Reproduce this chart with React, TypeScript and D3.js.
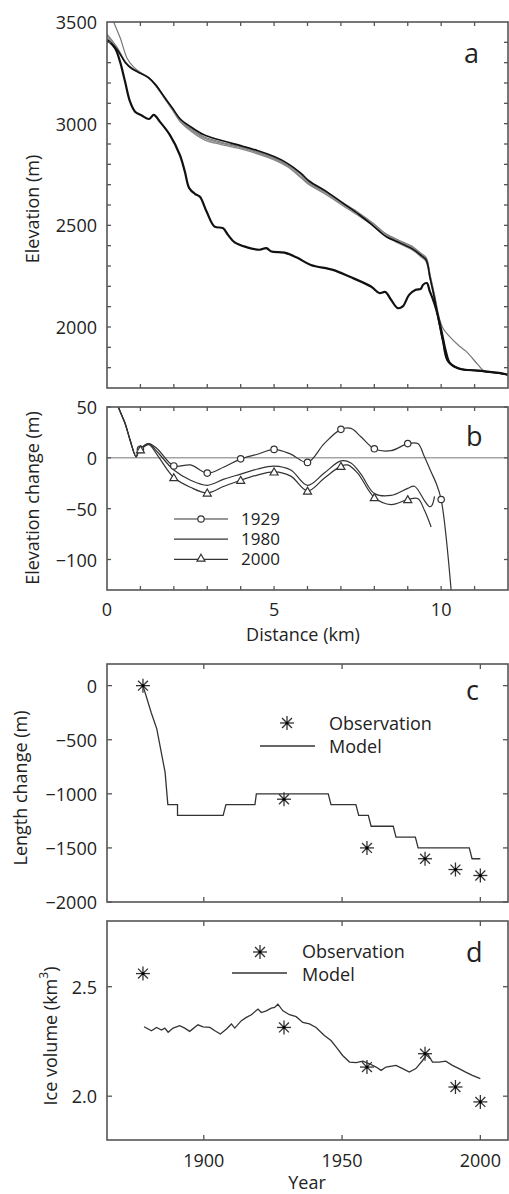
import React from "react";
import * as d3 from "d3";

// ---------- Panel a: surface profiles ----------
const kmUpper = [0, 0.3, 0.55, 0.75, 1.0, 1.25, 1.45, 1.7, 1.95, 2.2, 2.5, 2.9, 3.4, 4.0, 4.5, 5.0, 5.4, 5.8, 6.05, 6.55, 7.05, 7.55, 7.95, 8.35, 8.75, 9.15, 9.4, 9.55, 9.67, 9.8, 9.95, 10.05, 10.2, 10.55, 11.1, 11.7, 12];
const elevBlack = [3415, 3365, 3300, 3270, 3248, 3225, 3192, 3135, 3078, 3022, 2985, 2945, 2918, 2892, 2868, 2838, 2805, 2757, 2718, 2668, 2610, 2552, 2500, 2445, 2415, 2383, 2352, 2330, 2240, 2142, 2011, 1929, 1831, 1795, 1785, 1774, 1765];
const elevGray1 = [3440, 3375, 3305, 3272, 3250, 3226, 3190, 3132, 3072, 3012, 2972, 2930, 2905, 2882, 2858, 2828, 2793, 2740, 2705, 2660, 2605, 2555, 2510, 2455, 2420, 2390, 2360, 2340, 2250, 2150, 2020, 1935, 1835, 1797, 1786, 1775, 1765];
const elevGray2 = [3432, 3372, 3302, 3271, 3249, 3224, 3189, 3130, 3070, 3008, 2965, 2922, 2898, 2876, 2852, 2822, 2788, 2735, 2700, 2652, 2598, 2545, 2500, 2445, 2410, 2378, 2345, 2322, 2235, 2138, 2008, 1928, 1830, 1795, 1785, 1774, 1765];
const kmLong = [0, 0.2, 0.4, 0.6, 0.8, 1.0, 1.25, 1.45, 1.7, 1.95, 2.2, 2.5, 2.9, 3.4, 4.0, 4.5, 5.0, 5.4, 5.8, 6.05, 6.55, 7.05, 7.55, 7.95, 8.35, 8.75, 9.15, 9.4, 9.55, 9.67, 9.8, 9.95, 10.05, 10.2, 10.55, 10.75, 11.1, 11.3, 11.7, 12];
const elevLong = [3590, 3500, 3420, 3322, 3278, 3252, 3227, 3193, 3136, 3078, 3018, 2978, 2936, 2910, 2886, 2862, 2832, 2798, 2750, 2712, 2664, 2612, 2560, 2512, 2458, 2425, 2395, 2362, 2342, 2255, 2160, 2040, 1995, 1962, 1905, 1880, 1815, 1782, 1774, 1765];
const kmLow = [0, 0.24, 0.39, 0.54, 0.69, 0.84, 1.04, 1.26, 1.40, 1.58, 1.88, 2.18, 2.33, 2.46, 2.63, 2.78, 2.98, 3.22, 3.47, 3.62, 3.82, 4.17, 4.57, 4.77, 4.92, 5.31, 5.7, 6.1, 6.76, 7.25, 7.90, 8.15, 8.33, 8.50, 8.70, 8.85, 9.04, 9.24, 9.39, 9.46, 9.57, 9.66, 9.74, 9.84, 9.99, 10.14, 10.26, 10.54, 11.13, 11.73, 12];
const elevLow = [3412, 3371, 3305, 3207, 3108, 3059, 3040, 3023, 3043, 3010, 2945, 2846, 2764, 2683, 2655, 2641, 2568, 2494, 2486, 2453, 2416, 2393, 2380, 2388, 2371, 2366, 2340, 2305, 2281, 2248, 2199, 2167, 2172, 2134, 2093, 2101, 2158, 2183, 2188, 2208, 2216, 2175, 2142, 2093, 1995, 1880, 1823, 1795, 1785, 1774, 1765];
const elevTicksMajor = [2000, 2500, 3000, 3500];
const elevTicksMinor = [1800, 1900, 2000, 2100, 2200, 2300, 2400, 2500, 2600, 2700, 2800, 2900, 3000, 3100, 3200, 3300, 3400];
const kmTicks = [1, 2, 3, 4, 5, 6, 7, 8, 9, 10, 11];

// ---------- Panel b: elevation change ----------
const km1929 = [0.25, 0.34, 0.54, 0.69, 0.87, 0.94, 1.0, 1.25, 1.5, 2.0, 2.5, 3.0, 3.5, 4.0, 4.5, 5.0, 5.5, 6.0, 6.5, 7.0, 7.3, 7.6, 8.0, 8.5, 9.0, 9.3, 9.5, 9.7, 9.85, 10.0, 10.35];
const dh1929 = [60, 50, 34, 17.5, 1, 6, 8.3, 14, 9, -8, -7, -15, -9, -1, 3.5, 8.3, 3.6, -4.5, 14, 28, 29, 20.7, 8.9, 7, 14, 14, 1, -14, -25, -41, -150];
const km1980 = [0.25, 0.34, 0.54, 0.69, 0.87, 0.94, 1.0, 1.25, 1.5, 2.0, 2.5, 3.0, 3.5, 4.0, 4.5, 5.0, 5.5, 6.0, 6.5, 7.0, 7.3, 7.6, 8.0, 8.5, 9.0, 9.2, 9.5, 9.65, 9.72, 9.8];
const dh1980 = [60, 50, 34, 17.5, 1, 6, 9, 14, 6, -12, -22, -27, -21, -16, -11, -8.2, -12, -27, -15, -3, -5, -16, -35, -37, -30, -28, -42, -48, -47, -38];
const km2000 = [0.25, 0.34, 0.54, 0.69, 0.87, 0.94, 1.0, 1.25, 1.5, 2.0, 2.5, 3.0, 3.5, 4.0, 4.5, 5.0, 5.5, 6.0, 6.5, 7.0, 7.2, 7.5, 8.0, 8.5, 9.0, 9.3, 9.5, 9.7];
const dh2000 = [60, 50, 34, 17.5, 1, 6, 8, 13, 3, -19.4, -29, -34.5, -28, -22, -17, -13.8, -18, -32.6, -20, -8.2, -7, -15, -39, -46, -41, -40, -51.6, -68];
const km1929Markers = [1, 2, 3, 4, 5, 6, 7, 8, 9, 10];
const km2000Markers = [1, 2, 3, 4, 5, 6, 7, 8, 9];
const dhTicks = [-100, -50, 0, 50];
const kmLabelTicks = [0, 5, 10];
const legendYears = ["1929", "1980", "2000"];

// ---------- Panel c: length change ----------
const obsYears = [1878, 1929, 1959, 1980, 1991, 2000];
const obsLength = [0, -1050, -1500, -1600, -1700, -1755];
const modelLenYears = [1878, 1881, 1883, 1886, 1887, 1890.5, 1890.5, 1907, 1908, 1918.5, 1919, 1945, 1946, 1955, 1956, 1959.5, 1960.5, 1968.5, 1969.5, 1976.5, 1977.5, 1996, 1997, 2000];
const modelLen = [0, -250, -400, -800, -1100, -1100, -1200, -1200, -1100, -1100, -1000, -1000, -1100, -1100, -1200, -1200, -1300, -1300, -1400, -1400, -1500, -1500, -1600, -1600];
const lenTicks = [-2000, -1500, -1000, -500, 0];
const yearTicks = [1900, 1950, 2000];

// ---------- Panel d: ice volume ----------
const obsVolume = [2.56, 2.314, 2.133, 2.194, 2.042, 1.974];
const modelVolYears = [1878.4, 1881.1, 1882.9, 1884.7, 1885.9, 1887.1, 1888.9, 1891.3, 1893.1, 1894.9, 1897.9, 1899.7, 1902.2, 1904, 1906, 1908.2, 1910, 1911.2, 1913.6, 1915.4, 1917.2, 1919.6, 1920.8, 1922.6, 1924.4, 1925.6, 1926.8, 1928.6, 1931, 1933.4, 1935.8, 1938.2, 1940.6, 1943.6, 1946, 1947.9, 1950.2, 1952.7, 1955.1, 1957.5, 1959.9, 1962.3, 1964.1, 1965.9, 1969.5, 1971.9, 1974.3, 1976.7, 1979.1, 1980.9, 1982.7, 1985.1, 1987.5, 1989.9, 1992.3, 1994.7, 1997.1, 2000];
const modelVol = [2.317, 2.299, 2.314, 2.302, 2.311, 2.292, 2.311, 2.322, 2.311, 2.296, 2.326, 2.317, 2.314, 2.299, 2.284, 2.307, 2.33, 2.311, 2.345, 2.36, 2.372, 2.398, 2.382, 2.39, 2.402, 2.405, 2.42, 2.39, 2.372, 2.363, 2.337, 2.33, 2.314, 2.277, 2.254, 2.224, 2.186, 2.156, 2.153, 2.16, 2.148, 2.133, 2.118, 2.133, 2.141, 2.126, 2.11, 2.126, 2.163, 2.194, 2.156, 2.156, 2.16, 2.141, 2.126, 2.11, 2.095, 2.08];
const volTicks = [2.0, 2.5];
const volTickLabels = ["2.0", "2.5"];

const FONT = "'Open Sans', 'DejaVu Sans', sans-serif";
const FRAME = "#555";
const INK = "#222";
const L = 107, R = 508;

function Frame({ x, y, xTicks, yTicks, tl = 5 }: any) {
  const [x0, x1] = x.range();
  const [y0, y1] = y.range();
  return (
    <g stroke={FRAME} strokeWidth={1.3} fill="none">
      <rect x={x0} y={y1} width={x1 - x0} height={y0 - y1} strokeWidth={1.6} />
      {xTicks.map((t: number, i: number) => (
        <g key={"x" + i}>
          <line x1={x(t)} x2={x(t)} y1={y0} y2={y0 - tl} />
          <line x1={x(t)} x2={x(t)} y1={y1} y2={y1 + tl} />
        </g>
      ))}
      {yTicks.map((t: number, i: number) => (
        <g key={"y" + i}>
          <line x1={x0} x2={x0 + tl} y1={y(t)} y2={y(t)} />
          <line x1={x1} x2={x1 - tl} y1={y(t)} y2={y(t)} />
        </g>
      ))}
    </g>
  );
}

function Star({ cx, cy, r = 7 }: any) {
  const arms = d3.range(4).map((i) => (i * Math.PI) / 4);
  return (
    <g stroke="#333" strokeWidth={1.3}>
      {arms.map((a, i) => (
        <line key={i} x1={cx - r * Math.cos(a)} y1={cy - r * Math.sin(a)} x2={cx + r * Math.cos(a)} y2={cy + r * Math.sin(a)} />
      ))}
      <circle cx={cx} cy={cy} r={1.6} fill="#000" stroke="none" />
    </g>
  );
}

function YLabel({ x, y, text, children }: any) {
  return (
    <text transform={`translate(${x},${y}) rotate(-90)`} textAnchor="middle" dominantBaseline="central" fontSize={18} fill={INK}>
      {children || text}
    </text>
  );
}

export default function App() {
  const xa = d3.scaleLinear().domain([0, 12]).range([L, R]);
  const ya = d3.scaleLinear().domain([1700, 3500]).range([388, 22]);
  const lineA = (xs: number[], ys: number[]) =>
    d3.line<number>().x((_, i) => xa(xs[i])).y((v) => ya(v)).curve(d3.curveCatmullRom.alpha(0.5))(ys) || "";

  const yb = d3.scaleLinear().domain([-130, 50]).range([590, 407]);
  const lineB = (xs: number[], ys: number[]) =>
    d3.line<number>().x((_, i) => xa(xs[i])).y((v) => yb(v)).curve(d3.curveCatmullRom.alpha(0.5))(ys) || "";
  const interp = (xs: number[], ys: number[], k: number) => d3.scaleLinear().domain(xs).range(ys)(k);

  const xc = d3.scaleLinear().domain([1865, 2010]).range([L, R]);
  const yc = d3.scaleLinear().domain([-2000, 200]).range([902, 664]);
  const lineC = d3.line<number>().x((_, i) => xc(modelLenYears[i])).y((v) => yc(v))(modelLen) || "";

  const yd = d3.scaleLinear().domain([1.8, 2.8]).range([1140, 921]);
  const lineD = d3.line<number>().x((_, i) => xc(modelVolYears[i])).y((v) => yd(v))(modelVol) || "";

  const tri = d3.symbol().type(d3.symbolTriangle).size(28)() || "";

  return (
    <svg width={509} height={1194} style={{ position: "absolute", left: 0, top: 0, background: "#fff" }} fontFamily={FONT}>
      <defs>
        <clipPath id="clipA"><rect x={L} y={22} width={R - L} height={366} /></clipPath>
        <clipPath id="clipB"><rect x={L} y={407} width={R - L} height={183} /></clipPath>
      </defs>

      {/* Panel a */}
      <g clipPath="url(#clipA)" fill="none">
        <path d={lineA(kmLong, elevLong)} stroke="#777" strokeWidth={1.2} />
        <path d={lineA(kmUpper, elevGray1)} stroke="#888" strokeWidth={1.4} />
        <path d={lineA(kmUpper, elevGray2)} stroke="#888" strokeWidth={1.4} />
        <path d={lineA(kmUpper, elevBlack)} stroke="#111" strokeWidth={1.6} />
        <path d={lineA(kmLow, elevLow)} stroke="#111" strokeWidth={2.2} />
      </g>
      <Frame x={xa} y={ya} xTicks={kmTicks} yTicks={elevTicksMinor} tl={4} />
      {elevTicksMajor.map((t) => (
        <text key={t} x={97} y={ya(t)} textAnchor="end" dominantBaseline="central" fontSize={18} fill={INK}>{t}</text>
      ))}
      <text x={464} y={63} fontSize={27} fill={INK}>a</text>
      <YLabel x={32} y={209} text="Elevation (m)" />

      {/* Panel b */}
      <line x1={L} x2={R} y1={yb(0)} y2={yb(0)} stroke="#777" strokeWidth={1} />
      <g clipPath="url(#clipB)" fill="none" stroke="#333" strokeWidth={1.2}>
        <path d={lineB(km1929, dh1929)} />
        <path d={lineB(km1980, dh1980)} />
        <path d={lineB(km2000, dh2000)} />
        {km1929Markers.map((k) => (
          <circle key={"c" + k} cx={xa(k)} cy={yb(interp(km1929, dh1929, k))} r={3.2} fill="#fff" />
        ))}
        {km2000Markers.map((k) => (
          <path key={"t" + k} d={tri} transform={`translate(${xa(k)},${yb(interp(km2000, dh2000, k)) + 0.8})`} fill="#fff" />
        ))}
      </g>
      <Frame x={xa} y={yb} xTicks={kmTicks} yTicks={dhTicks} tl={4} />
      {dhTicks.map((t) => (
        <text key={t} x={97} y={yb(t)} textAnchor="end" dominantBaseline="central" fontSize={18} fill={INK}>{t < 0 ? "\u2212" + Math.abs(t) : t}</text>
      ))}
      {kmLabelTicks.map((t) => (
        <text key={t} x={xa(t)} y={616} textAnchor="middle" fontSize={18} fill={INK}>{t}</text>
      ))}
      <text x={303} y={641} textAnchor="middle" fontSize={18} fill={INK}>Distance (km)</text>
      <text x={466} y={446} fontSize={27} fill={INK}>b</text>
      <YLabel x={32} y={498} text="Elevation change (m)" />
      {legendYears.map((yr, i) => {
        const ly = 519 + i * 20.2;
        return (
          <g key={yr}>
            <line x1={174} x2={228} y1={ly} y2={ly} stroke="#333" strokeWidth={1.2} />
            {i === 0 && <circle cx={201} cy={ly} r={3.2} fill="#fff" stroke="#333" strokeWidth={1.2} />}
            {i === 2 && <path d={tri} transform={`translate(201,${ly - 0.5})`} fill="#fff" stroke="#333" strokeWidth={1.2} />}
            <text x={241} y={ly + 6} fontSize={17} fill={INK}>{yr}</text>
          </g>
        );
      })}

      {/* Panel c */}
      <path d={lineC} fill="none" stroke="#333" strokeWidth={1.3} />
      {obsYears.map((yr, i) => (
        <Star key={yr} cx={xc(yr)} cy={yc(obsLength[i])} />
      ))}
      <Frame x={xc} y={yc} xTicks={yearTicks} yTicks={lenTicks} tl={5} />
      {lenTicks.map((t) => (
        <text key={t} x={97} y={yc(t)} textAnchor="end" dominantBaseline="central" fontSize={18} fill={INK}>{t < 0 ? "\u2212" + Math.abs(t) : t}</text>
      ))}
      <text x={466} y={700} fontSize={27} fill={INK}>c</text>
      <YLabel x={20} y={788} text="Length change (m)" />
      <Star cx={287} cy={723} />
      <line x1={260} x2={315} y1={746} y2={746} stroke="#333" strokeWidth={1.3} />
      <text x={329} y={730} fontSize={18} fill={INK}>Observation</text>
      <text x={329} y={753} fontSize={18} fill={INK}>Model</text>

      {/* Panel d */}
      <path d={lineD} fill="none" stroke="#333" strokeWidth={1.3} />
      {obsYears.map((yr, i) => (
        <Star key={yr} cx={xc(yr)} cy={yd(obsVolume[i])} />
      ))}
      <Frame x={xc} y={yd} xTicks={yearTicks} yTicks={volTicks} tl={5} />
      {volTicks.map((t, i) => (
        <text key={t} x={97} y={yd(t)} textAnchor="end" dominantBaseline="central" fontSize={18} fill={INK}>{volTickLabels[i]}</text>
      ))}
      {yearTicks.map((t) => (
        <text key={t} x={xc(t)} y={1167} textAnchor="middle" fontSize={18} fill={INK}>{t}</text>
      ))}
      <text x={307} y={1189} textAnchor="middle" fontSize={18} fill={INK}>Year</text>
      <text x={466} y={962} fontSize={27} fill={INK}>d</text>
      <YLabel x={50} y={1036}>
        Ice volume (km<tspan dy={-7} fontSize={12}>3</tspan><tspan dy={7}>)</tspan>
      </YLabel>
      <Star cx={260} cy={952} />
      <line x1={232} x2={287} y1={973} y2={973} stroke="#333" strokeWidth={1.3} />
      <text x={302} y={958} fontSize={18} fill={INK}>Observation</text>
      <text x={302} y={981} fontSize={18} fill={INK}>Model</text>
    </svg>
  );
}
